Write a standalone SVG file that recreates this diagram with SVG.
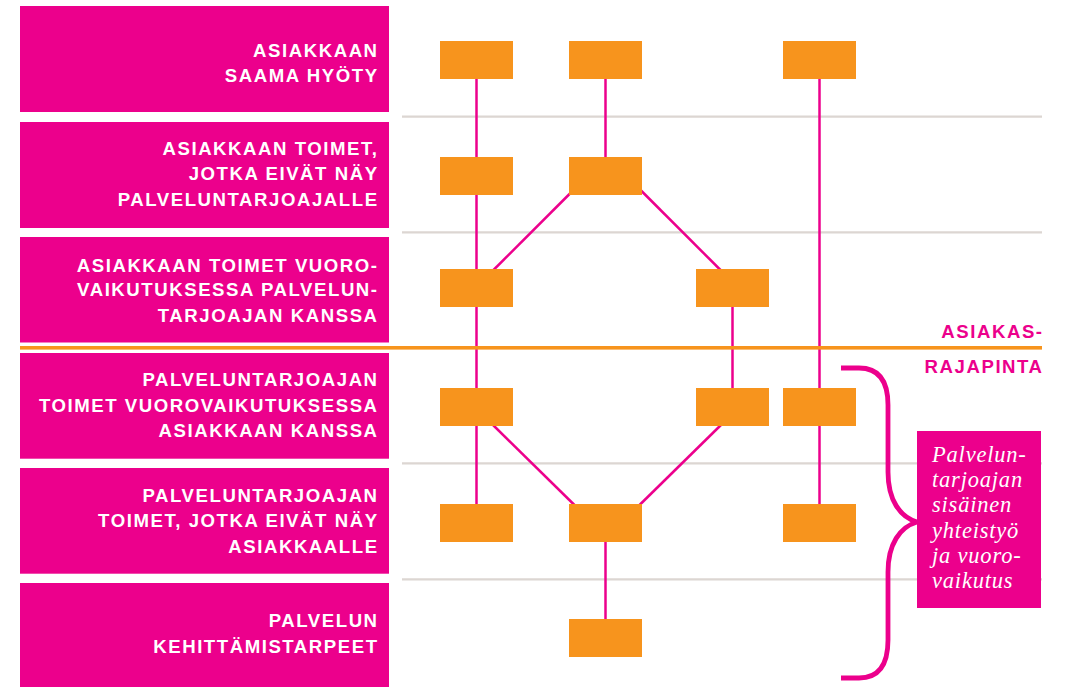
<svg xmlns="http://www.w3.org/2000/svg" width="1070" height="687" viewBox="0 0 1070 687">
  <style>
    .lbl { fill: #ec008c; }
    .lt { font-family: "Liberation Sans", Arial, Helvetica, sans-serif; font-weight: bold; font-size: 18.6px; letter-spacing: 1.55px; fill: #ffffff; text-anchor: end; }
    .rt { font-family: "Liberation Sans", Arial, Helvetica, sans-serif; font-weight: bold; font-size: 18.6px; letter-spacing: 1.55px; fill: #ec008c; text-anchor: end; }
    .it { font-family: "Liberation Serif", "Times New Roman", serif; font-style: italic; font-size: 22.5px; letter-spacing: 0.8px; fill: #ffffff; }
    .box { fill: #f7941d; }
    .grid { stroke: #dcd6d2; stroke-width: 2.2; fill: none; }
    .con { stroke: #ec008c; stroke-width: 2.5; fill: none; }
    .brace { stroke: #ec008c; stroke-width: 4.8; fill: none; stroke-linecap: butt; }
  </style>
  <rect width="1070" height="687" fill="#ffffff"/>

  <g id="grid">
    <line class="grid" x1="402" y1="116.7" x2="1042" y2="116.7"/>
    <line class="grid" x1="402" y1="232.3" x2="1042" y2="232.3"/>
    <line class="grid" x1="402" y1="463.3" x2="1042" y2="463.3"/>
    <line class="grid" x1="402" y1="579.3" x2="1042" y2="579.3"/>
  </g>

  <g id="lane-1">
    <rect class="lbl" x="20" y="6" width="369" height="106"/>
    <text class="lt" x="378.6" y="57.3">ASIAKKAAN</text>
    <text class="lt" x="378.6" y="82">SAAMA HYÖTY</text>
  </g>
  <g id="lane-2">
    <rect class="lbl" x="20" y="122" width="369" height="106"/>
    <text class="lt" x="378.6" y="155">ASIAKKAAN TOIMET,</text>
    <text class="lt" x="378.6" y="180.3">JOTKA EIVÄT NÄY</text>
    <text class="lt" x="378.6" y="205.5">PALVELUNTARJOAJALLE</text>
  </g>
  <g id="lane-3">
    <rect class="lbl" x="20" y="237" width="369" height="105.5"/>
    <text class="lt" x="378.6" y="271.7">ASIAKKAAN TOIMET VUORO-</text>
    <text class="lt" x="378.6" y="296.3">VAIKUTUKSESSA PALVELUN-</text>
    <text class="lt" x="378.6" y="321.6">TARJOAJAN KANSSA</text>
  </g>
  <g id="lane-4">
    <rect class="lbl" x="20" y="353" width="369" height="105.7"/>
    <text class="lt" x="378.6" y="386">PALVELUNTARJOAJAN</text>
    <text class="lt" x="378.6" y="411.5">TOIMET VUOROVAIKUTUKSESSA</text>
    <text class="lt" x="378.6" y="436.7">ASIAKKAAN KANSSA</text>
  </g>
  <g id="lane-5">
    <rect class="lbl" x="20" y="468" width="369" height="105.7"/>
    <text class="lt" x="378.6" y="501.7">PALVELUNTARJOAJAN</text>
    <text class="lt" x="378.6" y="527.2">TOIMET, JOTKA EIVÄT NÄY</text>
    <text class="lt" x="378.6" y="552.7">ASIAKKAALLE</text>
  </g>
  <g id="lane-6">
    <rect class="lbl" x="20" y="583" width="369" height="106"/>
    <text class="lt" x="378.6" y="626.7">PALVELUN</text>
    <text class="lt" x="378.6" y="652.5">KEHITTÄMISTARPEET</text>
  </g>

  <g id="connectors">
    <line class="con" x1="476.5" y1="75" x2="476.5" y2="508"/>
    <line class="con" x1="605.5" y1="75" x2="605.5" y2="161"/>
    <line class="con" x1="605.5" y1="538" x2="605.5" y2="623"/>
    <line class="con" x1="732.5" y1="303" x2="732.5" y2="392"/>
    <line class="con" x1="819.5" y1="75" x2="819.5" y2="508"/>
    <line class="con" x1="573.5" y1="190" x2="490" y2="273.5"/>
    <line class="con" x1="638" y1="187.5" x2="724" y2="273.5"/>
    <line class="con" x1="490" y1="422" x2="577" y2="507.5"/>
    <line class="con" x1="724" y1="422" x2="637" y2="507.5"/>
  </g>

  <g id="node-r1-c1"><rect class="box" x="440" y="41" width="73" height="38"/></g>
  <g id="node-r1-c2"><rect class="box" x="569" y="41" width="73" height="38"/></g>
  <g id="node-r1-c4"><rect class="box" x="783" y="41" width="73" height="38"/></g>
  <g id="node-r2-c1"><rect class="box" x="440" y="157" width="73" height="38"/></g>
  <g id="node-r2-c2"><rect class="box" x="569" y="157" width="73" height="38"/></g>
  <g id="node-r3-c1"><rect class="box" x="440" y="269" width="73" height="38"/></g>
  <g id="node-r3-c3"><rect class="box" x="696" y="269" width="73" height="38"/></g>
  <g id="node-r4-c1"><rect class="box" x="440" y="388" width="73" height="38"/></g>
  <g id="node-r4-c3"><rect class="box" x="696" y="388" width="73" height="38"/></g>
  <g id="node-r4-c4"><rect class="box" x="783" y="388" width="73" height="38"/></g>
  <g id="node-r5-c1"><rect class="box" x="440" y="504" width="73" height="38"/></g>
  <g id="node-r5-c2"><rect class="box" x="569" y="504" width="73" height="38"/></g>
  <g id="node-r5-c4"><rect class="box" x="783" y="504" width="73" height="38"/></g>
  <g id="node-r6-c2"><rect class="box" x="569" y="619" width="73" height="38"/></g>

  <g id="boundary">
    <rect x="20" y="346" width="1022" height="3.6" fill="#f7941d"/>
    <text class="rt" x="1043.6" y="337.7">ASIAKAS-</text>
    <text class="rt" x="1043.6" y="373.3">RAJAPINTA</text>
  </g>

  <g id="brace">
    <path class="brace" d="M 841 368 H 859 C 879 368 888 381 888 405 V 472 C 888 500 900 517 917 522 C 900 527 888 544 888 572 V 640 C 888 665 879 678 859 678 H 841"/>
  </g>

  <g id="note">
    <rect class="lbl" x="917" y="431" width="124" height="177"/>
    <text class="it" x="932" y="461.7">Palvelun-</text>
    <text class="it" x="932" y="487">tarjoajan</text>
    <text class="it" x="932" y="512.3">sisäinen</text>
    <text class="it" x="932" y="537.7">yhteistyö</text>
    <text class="it" x="932" y="563">ja vuoro-</text>
    <text class="it" x="932" y="588.3">vaikutus</text>
  </g>
</svg>
